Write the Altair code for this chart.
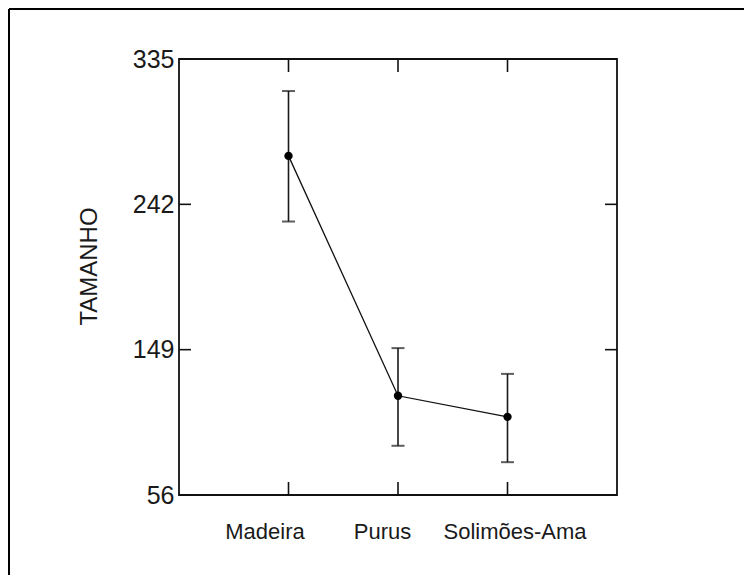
import json
import altair as alt
import pandas as pd

# ---- data ----
regions = ["Madeira", "Purus", "Solimões-Ama"]
means = [273.0, 119.5, 106.0]
upper = [314.5, 150.0, 133.5]
lower = [231.0, 87.5, 77.0]
y_ticks = [56, 149, 242, 335]
y_title = "TAMANHO"

W, H = 438, 436
FONT = "Liberation Sans"

df = pd.DataFrame({
    "pos": list(range(1, len(regions) + 1)),
    "region": regions,
    "mean": means,
    "hi": upper,
    "lo": lower,
})
yt = pd.DataFrame({"v": y_ticks})
one = pd.DataFrame({"a": [0]})

xs = alt.Scale(domain=[0, len(regions) + 1], nice=False, zero=False)
ys = alt.Scale(domain=[y_ticks[0], y_ticks[-1]], nice=False, zero=False)

label_expr = json.dumps([""] + regions, ensure_ascii=False) + "[datum.value]"

x_axis = alt.Axis(
    values=list(range(1, len(regions) + 1)),
    labelExpr=label_expr,
    ticks=False, domain=False, grid=False,
    labelFont=FONT, labelFontSize=22, labelColor="#1a1a1a",
    labelPadding=26, labelFlush=False, labelOverlap=False,
    labelOffset={"condition": [
        {"test": "datum.value == 1", "value": -24},
        {"test": "datum.value == 2", "value": -16},
    ], "value": 7},
    title=None,
)
y_axis = alt.Axis(
    values=y_ticks,
    ticks=False, domain=False, grid=False,
    labelFont=FONT, labelFontSize=25, labelColor="#1a1a1a",
    labelPadding=5, labelFlush=False, labelOverlap=False,
    title=y_title, titleFont=FONT, titleFontSize=24, titleFontWeight="normal",
    titleColor="#1a1a1a", titleAngle=270, titleAlign="center", titleBaseline="middle",
    titleX=-90, titleY=207,
)


def X(field):
    return alt.X(field, scale=xs, axis=x_axis)


def Y(field):
    return alt.Y(field, scale=ys, axis=y_axis)


line = alt.Chart(df).mark_line(color="#111", strokeWidth=1.3).encode(
    x=X("pos:Q"), y=Y("mean:Q"))
bars = alt.Chart(df).mark_rule(color="#1a1a1a", strokeWidth=1.6).encode(
    x=X("pos:Q"), y=Y("lo:Q"), y2="hi:Q")
cap_hi = alt.Chart(df).mark_tick(color="#1a1a1a", orient="horizontal", size=13, thickness=2).encode(
    x=X("pos:Q"), y=Y("hi:Q"))
cap_lo = alt.Chart(df).mark_tick(color="#1a1a1a", orient="horizontal", size=13, thickness=2).encode(
    x=X("pos:Q"), y=Y("lo:Q"))
pts = alt.Chart(df).mark_circle(color="#000", size=70, opacity=1).encode(
    x=X("pos:Q"), y=Y("mean:Q"))

# inward ticks on all four sides
xt_top = alt.Chart(df).mark_rule(color="#111", strokeWidth=1.6).encode(
    x=X("pos:Q"), y=alt.value(0), y2=alt.value(13))
xt_bot = alt.Chart(df).mark_rule(color="#111", strokeWidth=1.6).encode(
    x=X("pos:Q"), y=alt.value(H - 13), y2=alt.value(H))
yt_left = alt.Chart(yt).mark_rule(color="#111", strokeWidth=1.6).encode(
    y=Y("v:Q"), x=alt.value(0), x2=alt.value(12))
yt_right = alt.Chart(yt).mark_rule(color="#111", strokeWidth=1.6).encode(
    y=Y("v:Q"), x=alt.value(W - 12), x2=alt.value(W))

# outer picture frame (left and top edges)
frame_left = alt.Chart(one).mark_rule(color="#000", strokeWidth=2).encode(
    x=alt.value(-170), y=alt.value(-50), y2=alt.value(H + 80))
frame_top = alt.Chart(one).mark_rule(color="#000", strokeWidth=2).encode(
    x=alt.value(-170), x2=alt.value(W + 127), y=alt.value(-50))

chart = alt.layer(
    line, bars, cap_hi, cap_lo, pts, xt_top, xt_bot, yt_left, yt_right, frame_left, frame_top
).properties(
    width=W, height=H,
    autosize=alt.AutoSizeParams(type="none"),
    padding={"left": 179, "top": 59, "right": 127, "bottom": 80},
    background="white",
).configure_view(stroke="#111", strokeWidth=1.8)

chart.save("out.html", embed_options={"renderer": "svg", "actions": False})
